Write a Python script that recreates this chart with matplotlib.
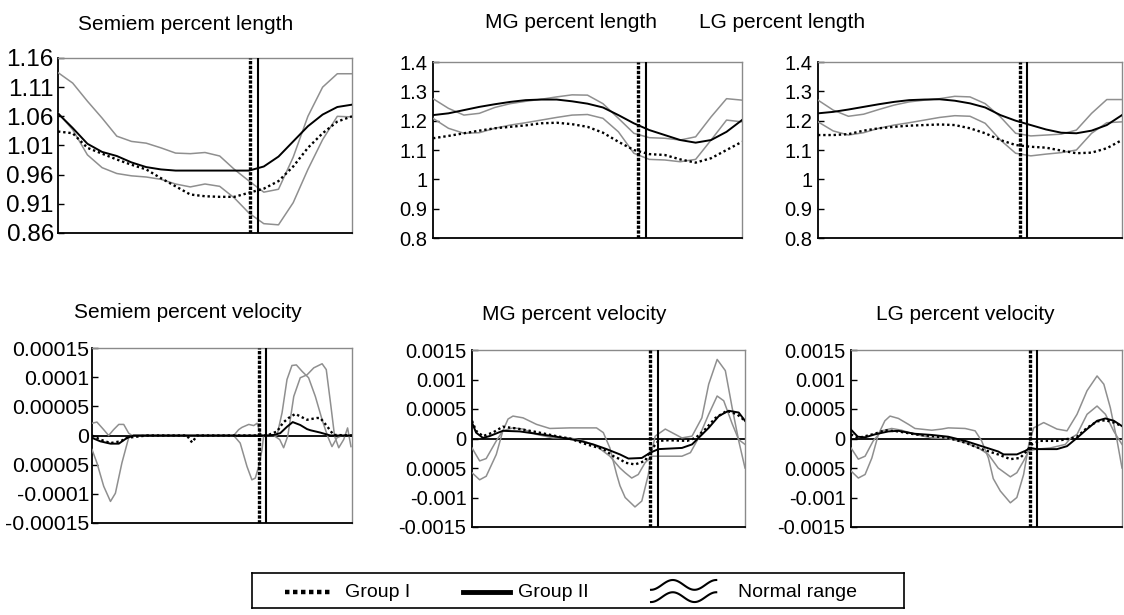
"""Muscle percent length / velocity over the gait cycle, Group I vs Group II vs normal range."""
import numpy as np
import matplotlib
matplotlib.use("Agg")
import matplotlib.pyplot as plt

plt.rcParams["font.family"] = ["Liberation Sans", "DejaVu Sans"]

W, H = 1124, 615

# ---------------- length panels: % gait cycle grid ----------------
pct = [0, 5, 10, 15, 20, 25, 30, 35, 40, 45, 50, 55, 60, 65, 70, 75, 80, 85, 90, 95, 100]

# Semiem percent length
sl_upper = [1.135, 1.117, 1.086, 1.057, 1.026, 1.017, 1.014, 1.006, 0.997, 0.996, 0.998,
            0.992, 0.969, 0.949, 0.930, 0.935, 0.990, 1.060, 1.110, 1.133, 1.133]
sl_lower = [1.066, 1.037, 0.994, 0.972, 0.962, 0.958, 0.956, 0.952, 0.944, 0.939, 0.944,
            0.940, 0.920, 0.894, 0.876, 0.874, 0.912, 0.969, 1.020, 1.060, 1.059]
sl_g2 = [1.065, 1.040, 1.013, 0.999, 0.992, 0.981, 0.973, 0.969, 0.967, 0.967, 0.967,
         0.967, 0.967, 0.967, 0.974, 0.991, 1.017, 1.043, 1.063, 1.076, 1.080]
sl_g1 = [1.034, 1.031, 1.006, 0.996, 0.986, 0.977, 0.969, 0.954, 0.940, 0.926, 0.923,
         0.922, 0.922, 0.929, 0.936, 0.949, 0.974, 1.006, 1.031, 1.051, 1.060]
sl_toe = [65.3, 68.0]

# MG percent length
ml_upper = [1.275, 1.242, 1.219, 1.225, 1.245, 1.258, 1.266, 1.273, 1.281, 1.288, 1.287,
            1.258, 1.208, 1.157, 1.142, 1.140, 1.134, 1.145, 1.213, 1.275, 1.270]
ml_lower = [1.208, 1.174, 1.157, 1.159, 1.174, 1.185, 1.193, 1.202, 1.211, 1.219, 1.221,
            1.208, 1.162, 1.089, 1.068, 1.066, 1.060, 1.068, 1.134, 1.202, 1.196]
ml_g2 = [1.219, 1.225, 1.236, 1.247, 1.256, 1.264, 1.270, 1.272, 1.272, 1.266, 1.258,
         1.245, 1.219, 1.191, 1.168, 1.151, 1.134, 1.125, 1.134, 1.162, 1.202]
ml_g1 = [1.140, 1.148, 1.157, 1.166, 1.174, 1.179, 1.184, 1.191, 1.193, 1.188, 1.179,
         1.159, 1.128, 1.100, 1.086, 1.083, 1.068, 1.057, 1.072, 1.100, 1.128]
ml_toe = [66.3, 69.0]

# LG percent length
ll_upper = [1.270, 1.236, 1.215, 1.222, 1.238, 1.253, 1.264, 1.270, 1.275, 1.283, 1.281,
            1.258, 1.213, 1.157, 1.148, 1.151, 1.154, 1.168, 1.225, 1.272, 1.272]
ll_lower = [1.196, 1.165, 1.151, 1.159, 1.174, 1.185, 1.193, 1.202, 1.211, 1.217, 1.215,
            1.191, 1.134, 1.089, 1.080, 1.086, 1.091, 1.100, 1.157, 1.193, 1.196]
ll_g2 = [1.225, 1.230, 1.238, 1.247, 1.256, 1.264, 1.270, 1.272, 1.273, 1.268, 1.259,
         1.245, 1.219, 1.200, 1.185, 1.170, 1.159, 1.157, 1.166, 1.185, 1.219]
ll_g1 = [1.151, 1.151, 1.154, 1.166, 1.174, 1.179, 1.183, 1.185, 1.187, 1.185, 1.174,
         1.157, 1.134, 1.117, 1.111, 1.108, 1.098, 1.089, 1.091, 1.106, 1.134]
ll_toe = [66.3, 68.9]

# ---------------- velocity panels: each curve has its own knots ----------------
# Semiem percent velocity (values in 1e-4)
sv_a_x = [0, 1.9, 4.5, 7.1, 9.0, 11.5, 14.1, 16, 54.5, 57, 59.6, 61.5, 62.8, 64.1, 65.4, 66.0,
          67.3, 71.2, 73.1, 75, 76.9, 78.6, 80.8, 83.3, 85.9, 88.5, 90.6, 92.3, 94.2, 96.2, 100]
sv_a = [-0.24, -0.47, -0.87, -1.13, -0.99, -0.47, -0.04, 0, 0, -0.13, -0.53, -0.76, -0.73, -0.53,
        -0.24, -0.01, 0, 0.01, 0.39, 0.96, 1.20, 1.21, 1.10, 0.99, 0.67, 0.27, -0.01, -0.19,
        -0.04, 0, 0]
sv_b_x = [0, 1.9, 4.5, 6.4, 8.3, 10.3, 12.2, 14.1, 15.4, 54.5, 56.4, 57.7, 60.3, 62.2, 63.5,
          64.7, 65.4, 69.9, 72.2, 73.7, 75.3, 77.6, 80.1, 82.7, 85.3, 88.5, 90.1, 91.9, 93.3,
          94.9, 96.8, 98.3, 99.6]
sv_b = [0.21, 0.23, 0.10, 0, 0.10, 0.19, 0.19, 0.04, 0, 0, 0.10, 0.14, 0.19, 0.17, 0.21, 0.04,
        0, 0, -0.07, -0.21, -0.01, 0.67, 0.99, 1.04, 1.16, 1.23, 1.13, 0.50, -0.01, -0.21,
        -0.07, 0.13, -0.19]
sv_g2_x = [0, 3.2, 7.1, 10.3, 13.5, 16, 67.3, 69.9, 72.4, 75, 77.2, 80.1, 82.7, 84, 87.8, 91.7, 100]
sv_g2 = [-0.04, -0.10, -0.14, -0.14, -0.04, 0, 0, 0.01, 0.04, 0.15, 0.23, 0.18, 0.11, 0.09,
         0.05, 0, 0]
sv_g1_x = [0, 3.2, 7.1, 10.9, 13.5, 21, 36.5, 38.5, 40.4, 67.3, 71.2, 73.5, 75.6, 78.2, 82.7,
           86.5, 87.8, 90.4, 92.9, 100]
sv_g1 = [0, -0.07, -0.13, -0.10, -0.04, 0, 0, -0.12, 0, 0, 0.07, 0.22, 0.30, 0.37, 0.27, 0.30,
         0.30, 0.16, 0.01, 0]
sv_toe = [64.2, 66.9]

# MG percent velocity (values in 1e-3)
mv_a_x = [0, 2.8, 5.2, 8.9, 11.3, 13.2, 15.0, 18.7, 23.6, 28.5, 35.8, 45.6, 48.1, 50.5, 53.0,
          54.2, 56.1, 59.7, 62.2, 64.6, 65.9, 67.1, 70.8, 76.9, 80.6, 84.2, 86.7, 89.8, 92.8,
          95.3, 97.7, 100]
mv_a = [-0.58, -0.70, -0.64, -0.27, 0.13, 0.33, 0.38, 0.35, 0.24, 0.17, 0.18, 0.18, 0.10,
        -0.16, -0.61, -0.80, -1.00, -1.16, -1.06, -0.61, -0.21, 0.04, 0.16, 0.01, 0.04, 0.35,
        0.92, 1.34, 1.15, 0.52, -0.04, -0.50]
mv_b_x = [0, 2.8, 5.2, 8.9, 11.3, 15.0, 18.7, 23.6, 29.7, 35.8, 40.8, 45.6, 50.5, 54.2, 56.1,
          58.5, 60.9, 63.4, 65.9, 68.3, 76.9, 80.0, 83.0, 86.7, 89.8, 92.2, 95.3, 97.7, 100]
mv_b = [-0.16, -0.38, -0.34, -0.04, 0.13, 0.18, 0.16, 0.07, 0.01, 0.01, -0.04, -0.13, -0.30,
        -0.50, -0.58, -0.67, -0.61, -0.41, -0.30, -0.30, -0.30, -0.24, 0.01, 0.41, 0.72, 0.64,
        0.25, -0.02, -0.10]
mv_g2_x = [0, 1.5, 4.0, 6.4, 11.3, 17.5, 23.6, 29.7, 34.6, 39.5, 44.4, 49.3, 54.2, 57.3, 62.2,
           65.3, 68.3, 76.9, 80.6, 83.0, 86.7, 90.4, 94.0, 97.7, 100]
mv_g2 = [0.27, 0.10, 0.01, 0.04, 0.13, 0.12, 0.08, 0.04, 0.0, -0.04, -0.10, -0.18, -0.27, -0.34,
         -0.33, -0.24, -0.18, -0.16, -0.10, 0.01, 0.18, 0.38, 0.47, 0.44, 0.30]
mv_g1_x = [0, 1.5, 4.0, 7.6, 11.3, 16.3, 23.6, 30.9, 35.8, 42.0, 48.1, 51.8, 54.2, 56.1, 59.7,
           63.4, 65.3, 68.3, 72.0, 78.8, 81.9, 85.5, 89.2, 93.4, 97.1, 100]
mv_g1 = [0.30, 0.13, 0.04, 0.10, 0.20, 0.17, 0.11, 0.04, 0.0, -0.10, -0.18, -0.30, -0.35, -0.41,
         -0.44, -0.38, -0.21, -0.04, -0.03, -0.04, 0.01, 0.16, 0.35, 0.47, 0.41, 0.30]
mv_toe = [65.3, 68.3]

# LG percent velocity (values in 1e-3)
lv_a_x = [0, 2.7, 5.2, 7.7, 10.1, 12.5, 14.4, 17.5, 21.2, 23.6, 29.8, 33.5, 35.9, 42.1, 45.8,
          48.2, 50.7, 52.5, 55.1, 58.8, 61.2, 63.7, 65.6, 67.4, 71.1, 76.0, 79.7, 83.4, 87.1,
          90.8, 93.3, 95.7, 98.2, 100]
lv_a = [-0.55, -0.67, -0.61, -0.33, 0.07, 0.30, 0.38, 0.34, 0.24, 0.17, 0.14, 0.16, 0.18, 0.17,
        0.13, -0.04, -0.33, -0.68, -0.89, -1.09, -1.00, -0.61, -0.10, 0.18, 0.27, 0.16, 0.13,
        0.41, 0.81, 1.06, 0.92, 0.52, -0.04, -0.50]
lv_b_x = [0, 2.7, 5.2, 8.2, 11.3, 15.0, 18.7, 23.6, 29.8, 35.9, 42.1, 47.0, 50.7, 54.3, 58.8,
          61.2, 63.7, 65.6, 68.6, 73.6, 79.1, 80.9, 83.4, 87.1, 90.8, 93.9, 97.0, 100]
lv_b = [-0.16, -0.35, -0.30, -0.04, 0.13, 0.17, 0.14, 0.07, 0.01, 0.0, -0.07, -0.16, -0.27,
        -0.50, -0.65, -0.58, -0.38, -0.21, -0.18, -0.16, -0.10, 0.0, 0.07, 0.41, 0.55, 0.41,
        0.12, -0.10]
lv_g2_x = [0, 2.5, 5.2, 8.8, 13.8, 17.5, 23.6, 29.8, 35.9, 42.1, 48.2, 54.3, 56.3, 61.2, 64.3,
           66.1, 68.6, 76.0, 79.7, 83.4, 87.1, 90.8, 93.9, 97.0, 100]
lv_g2 = [0.15, 0.03, 0.02, 0.07, 0.12, 0.13, 0.08, 0.06, 0.03, -0.04, -0.13, -0.22, -0.27, -0.27,
         -0.21, -0.16, -0.18, -0.18, -0.13, 0.01, 0.16, 0.30, 0.34, 0.30, 0.21]
lv_g1_x = [0, 2.7, 8.8, 12.5, 17.5, 23.6, 29.8, 35.9, 42.1, 48.2, 54.3, 58.8, 62.4, 64.9, 66.7,
           69.8, 76.0, 80.9, 83.4, 87.1, 90.8, 93.9, 97.0, 100]
lv_g1 = [0.07, 0.01, 0.08, 0.14, 0.12, 0.07, 0.04, 0.01, -0.07, -0.18, -0.27, -0.35, -0.33,
         -0.21, -0.10, -0.04, -0.04, 0.0, 0.03, 0.18, 0.29, 0.31, 0.27, 0.21]
lv_toe = [65.9, 68.6]

# ---------------- tick labels (as printed in the source figure) ----------------
sl_ticks = [0.86, 0.91, 0.96, 1.01, 1.06, 1.11, 1.16]
sl_labels = ["0.86", "0.91", "0.96", "1.01", "1.06", "1.11", "1.16"]
len_ticks = [0.8, 0.9, 1.0, 1.1, 1.2, 1.3, 1.4]
len_labels = ["0.8", "0.9", "1", "1.1", "1.2", "1.3", "1.4"]
sv_ticks = [-0.00015, -0.0001, -0.00005, 0, 0.00005, 0.0001, 0.00015]
sv_labels = ["-0.00015", "-0.0001", "0.00005", "0", "0.00005", "0.0001", "0.00015"]
vel_ticks = [-0.0015, -0.001, -0.0005, 0, 0.0005, 0.001, 0.0015]
vel_labels = ["-0.0015", "-0.001", "0.0005", "0", "0.0005", "0.001", "0.0015"]

GRAY = "#8f8f8f"


def px_axes(fig, x0, y0, x1, y1):
    """Axes placed by pixel box (left, top, right, bottom) of the 1124x615 canvas."""
    return fig.add_axes([x0 / W, 1 - y1 / H, (x1 - x0) / W, (y1 - y0) / H])


def style(ax, ylim, ticks, labels, fs, pad=4):
    ax.set_xlim(0, 100)
    ax.set_ylim(*ylim)
    ax.set_xticks([])
    ax.set_yticks(ticks)
    ax.set_yticklabels(labels, fontsize=fs)
    ax.tick_params(axis="y", direction="in", length=4, width=1, pad=pad)
    for s in ("top", "right"):
        ax.spines[s].set_color("#8a8a8a")
        ax.spines[s].set_linewidth(1.0)
    for s in ("left", "bottom"):
        ax.spines[s].set_color("black")
        ax.spines[s].set_linewidth(1.3)


def draw(ax, normal, g1, g2, toe, zero=False, scale=1.0):
    if zero:
        ax.axhline(0, color="black", lw=1.3, zorder=2)
    for xs, ys in normal:
        ax.plot(xs, np.asarray(ys) * scale, color=GRAY, lw=1.1, zorder=3)
    ax.plot(g2[0], np.asarray(g2[1]) * scale, color="black", lw=1.4, zorder=4)
    ax.plot(g1[0], np.asarray(g1[1]) * scale, color="black", lw=1.7,
            ls=(0, (1, 1.2)), zorder=4)
    ax.axvline(toe[0], color="black", lw=2.4, ls=(0, (1, 0.45)), zorder=5)
    ax.axvline(toe[1], color="black", lw=1.5, zorder=5)


fig = plt.figure(figsize=(W / 100, H / 100), dpi=100)

# --- top row: percent length ---
ax = px_axes(fig, 58, 58, 352, 233)
draw(ax, [(pct, sl_upper), (pct, sl_lower)], (pct, sl_g1), (pct, sl_g2), sl_toe)
style(ax, (0.86, 1.16), sl_ticks, sl_labels, 17.5, pad=3)

ax = px_axes(fig, 433, 62, 742, 238)
draw(ax, [(pct, ml_upper), (pct, ml_lower)], (pct, ml_g1), (pct, ml_g2), ml_toe)
style(ax, (0.8, 1.4), len_ticks, len_labels, 14.5)

ax = px_axes(fig, 818, 62, 1122, 238)
draw(ax, [(pct, ll_upper), (pct, ll_lower)], (pct, ll_g1), (pct, ll_g2), ll_toe)
style(ax, (0.8, 1.4), len_ticks, len_labels, 14.5)

# --- bottom row: percent velocity ---
ax = px_axes(fig, 92, 348, 352, 523)
draw(ax, [(sv_a_x, sv_a), (sv_b_x, sv_b)], (sv_g1_x, sv_g1), (sv_g2_x, sv_g2), sv_toe,
     zero=True, scale=1e-4)
style(ax, (-0.00015, 0.00015), sv_ticks, sv_labels, 15.3, pad=2)

ax = px_axes(fig, 472, 350, 745, 527)
draw(ax, [(mv_a_x, mv_a), (mv_b_x, mv_b)], (mv_g1_x, mv_g1), (mv_g2_x, mv_g2), mv_toe,
     zero=True, scale=1e-3)
style(ax, (-0.0015, 0.0015), vel_ticks, vel_labels, 14.5)

ax = px_axes(fig, 851, 350, 1122, 527)
draw(ax, [(lv_a_x, lv_a), (lv_b_x, lv_b)], (lv_g1_x, lv_g1), (lv_g2_x, lv_g2), lv_toe,
     zero=True, scale=1e-3)
style(ax, (-0.0015, 0.0015), vel_ticks, vel_labels, 14.5)

# --- panel titles ---
titles = [("Semiem percent length", 186, 24), ("MG percent length", 571, 23),
          ("LG percent length", 782, 23), ("Semiem percent velocity", 188, 313),
          ("MG percent velocity", 574, 314), ("LG percent velocity", 965, 315)]
for txt, tx, ty in titles:
    fig.text(tx / W, 1 - ty / H, txt, ha="center", va="center", fontsize=15)

# --- legend box ---
lax = px_axes(fig, 252, 573, 904, 608)
lax.set_xlim(0, 1)
lax.set_ylim(0, 1)
lax.set_xticks([])
lax.set_yticks([])
for s in lax.spines.values():
    s.set_color("black")
    s.set_linewidth(1.2)
lax.plot([0.051, 0.124], [0.46, 0.46], color="black", lw=3.2, ls=(0, (1, 0.8)))
lax.text(0.143, 0.44, "Group I", va="center", fontsize=14)
lax.plot([0.324, 0.396], [0.46, 0.46], color="black", lw=3.5)
lax.text(0.408, 0.44, "Group II", va="center", fontsize=14)
t = np.linspace(0, 1, 80)
for yc in (0.66, 0.31):
    lax.plot(0.612 + 0.1 * t, yc - 0.14 * np.cos(3 * np.pi * t), color="black", lw=1.5)
lax.text(0.745, 0.44, "Normal range", va="center", fontsize=14)

fig.savefig("out.png", dpi=100)
